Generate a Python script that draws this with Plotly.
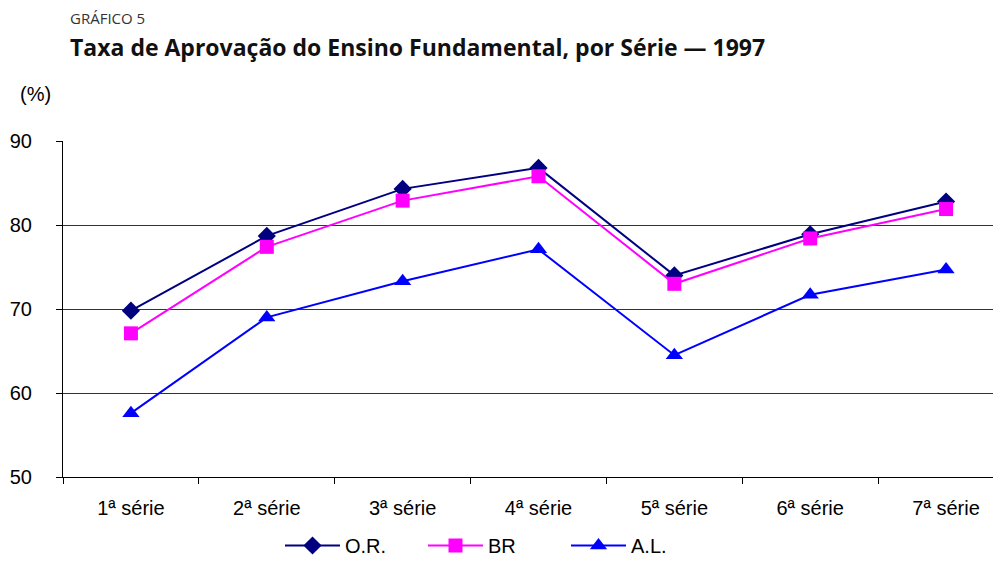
import plotly.graph_objects as go

categories = ["1ª série", "2ª série", "3ª série", "4ª série", "5ª série", "6ª série", "7ª série"]
or_values = [69.8, 78.7, 84.3, 86.8, 74.0, 78.9, 82.8]
br_values = [67.1, 77.4, 82.9, 85.8, 73.0, 78.4, 81.9]
al_values = [57.6, 69.0, 73.3, 77.1, 64.5, 71.7, 74.7]
y_ticks = [50, 60, 70, 80, 90]

OFF = 8  # default page body margin
W, H = 1001 - OFF, 565 - OFF
# plot area in page pixels: left 63, right 1001, top 141, bottom 477
L, R, T, B = 63 - OFF, 0, 141 - OFF, H - (477 - OFF)
pw, ph = W - L - R, H - T - B

def px(x):  # page pixel -> paper x
    return (x - OFF - L) / pw

def py(y):  # page pixel -> paper y
    return (H - B - (y - OFF)) / ph

fig = go.Figure()
fig.add_trace(go.Scatter(x=categories, y=or_values, name="O.R.", mode="lines+markers",
                         line=dict(color="#000080", width=2),
                         marker=dict(symbol="diamond", size=14, color="#000080")))
fig.add_trace(go.Scatter(x=categories, y=br_values, name="BR", mode="lines+markers",
                         line=dict(color="#FF00FF", width=2),
                         marker=dict(symbol="square", size=14, color="#FF00FF")))
fig.add_trace(go.Scatter(x=categories, y=al_values, name="A.L.", mode="lines+markers",
                         line=dict(color="#0000FF", width=2),
                         marker=dict(symbol="triangle-up", size=15, color="#0000FF")))

font_axis = dict(family="Liberation Sans, Arial", size=20, color="#000000")

fig.update_layout(
    width=W, height=H,
    margin=dict(l=L, r=R, t=T, b=B, pad=0),
    paper_bgcolor="white", plot_bgcolor="white",
    showlegend=True,
    legend=dict(orientation="h", x=px(280), xanchor="left", y=py(565), yanchor="bottom",
                font=font_axis, itemwidth=55, entrywidth=73, entrywidthmode="pixels",
                bgcolor="rgba(0,0,0,0)"),
    xaxis=dict(type="category", range=[-0.5, -0.5 + pw / (951 / 7)],
               showline=True, linecolor="#000000", linewidth=1,
               ticks="outside", tickson="boundaries", ticklen=6, tickcolor="#000000",
               showgrid=False, tickfont=font_axis, ticklabelstandoff=13, fixedrange=True),
    yaxis=dict(range=[50, 90], tickvals=y_ticks, showline=True, linecolor="#000000", linewidth=1,
               ticks="outside", ticklen=6, tickcolor="#000000",
               showgrid=True, gridcolor="#333333", gridwidth=1, zeroline=False,
               tickfont=font_axis, ticklabelstandoff=20, fixedrange=True),
    annotations=[
        dict(text="GRÁFICO 5", xref="paper", yref="paper", x=px(68), y=py(18),
             xanchor="left", yanchor="middle", showarrow=False,
             font=dict(family="Liberation Sans Narrow, Open Sans", size=15, color="#333333")),
        dict(text="<b>Taxa de Aprovação do Ensino Fundamental, por Série — 1997</b>", xref="paper", yref="paper",
             x=px(68), y=py(47), xanchor="left", yanchor="middle", showarrow=False,
             font=dict(family="Open Sans", size=23, color="#111111")),
        dict(text="(%)", xref="paper", yref="paper", x=px(18), y=py(94),
             xanchor="left", yanchor="middle", showarrow=False,
             font=dict(family="Liberation Sans, Arial", size=20, color="#000000")),
    ],
)

fig.write_html("out.html")
